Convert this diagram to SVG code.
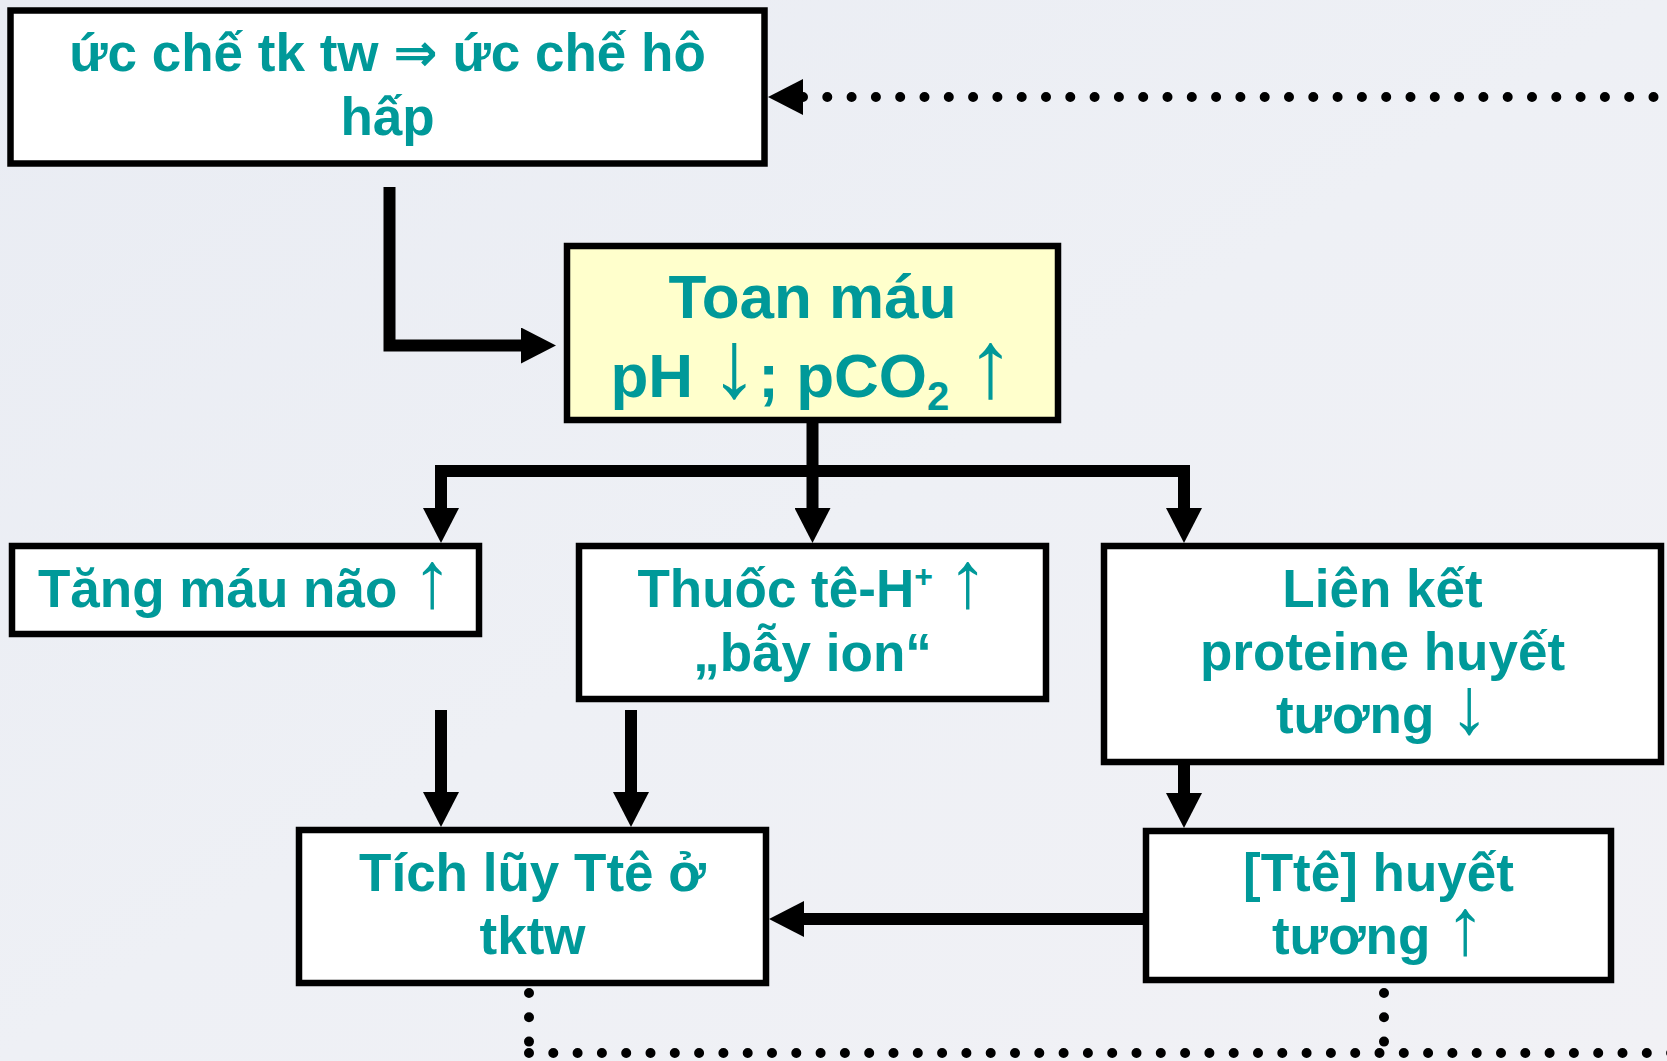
<svg xmlns="http://www.w3.org/2000/svg" width="1667" height="1061" viewBox="0 0 1667 1061">
  <defs>
    <linearGradient id="bg" x1="0" y1="0" x2="1" y2="1">
      <stop offset="0" stop-color="#E9ECF3"/>
      <stop offset="0.5" stop-color="#EEF0F5"/>
      <stop offset="1" stop-color="#F1F1F5"/>
    </linearGradient>
    <marker id="ah" markerUnits="userSpaceOnUse" markerWidth="36" markerHeight="36" viewBox="0 0 36 36" refX="0" refY="18" orient="auto-start-reverse">
      <path d="M0,0 L35,18 L0,36 Z" fill="#000"/>
    </marker>
    <style>
      .box { stroke: #000; stroke-width: 6.5; fill: #FFFFFF; }
      .yel { fill: #FFFFCC; }
      .t { font-family: "Liberation Sans", Arial, "DejaVu Sans", sans-serif; font-weight: bold; fill: #009999; text-anchor: middle; font-size: 53px; }
      .big { font-size: 62px; }
      .ar { font-weight: normal; font-size: 80px; }
      .big .ar { font-size: 96px; }
      .ln { stroke: #000; stroke-width: 12; fill: none; stroke-linejoin: miter; stroke-linecap: butt; }
      .dot { stroke: #000; stroke-width: 10; fill: none; stroke-linecap: round; stroke-dasharray: 0 24.3; }
    </style>
  </defs>
  <rect x="0" y="0" width="1667" height="1061" fill="url(#bg)"/>

  <g id="connectors">
    <path class="ln" d="M389.5 187 V345.5 H521" marker-end="url(#ah)"/>
    <path class="ln" d="M812.5 423 V508" marker-end="url(#ah)"/>
    <path class="ln" d="M435 471 H1190"/>
    <path class="ln" d="M441 471 V508" marker-end="url(#ah)"/>
    <path class="ln" d="M1184 471 V508" marker-end="url(#ah)"/>
    <path class="ln" d="M441 710 V792" marker-end="url(#ah)"/>
    <path class="ln" d="M631 710 V792" marker-end="url(#ah)"/>
    <path class="ln" d="M1184 765 V793" marker-end="url(#ah)"/>
    <path class="ln" d="M1143 919 H804" marker-end="url(#ah)"/>
    <path class="dot" d="M803 97 H1680" marker-start="url(#ah)"/>
    <path class="dot" d="M529 993 V1045"/>
    <path class="dot" d="M1384 993 V1045"/>
    <path class="dot" d="M529 1053 H1680"/>
  </g>

  <g id="node-uc-che">
    <rect class="box" x="10.5" y="10.5" width="754" height="153"/>
    <text class="t" x="387.5" y="71">ức chế tk tw ⇒ ức chế hô</text>
    <text class="t" x="387.5" y="135">hấp</text>
  </g>

  <g id="node-toan-mau">
    <rect class="box yel" x="567" y="246" width="491" height="174"/>
    <text class="t big" x="812.5" y="318">Toan máu</text>
    <text class="t big" x="812.5" y="397">pH <tspan class="ar">↓</tspan>; pCO<tspan font-size="40" dy="13">2</tspan><tspan dy="-13"> </tspan><tspan class="ar">↑</tspan></text>
  </g>

  <g id="node-tang-mau-nao">
    <rect class="box" x="12" y="546" width="467" height="88"/>
    <text class="t" x="245" y="607">Tăng máu não <tspan class="ar">↑</tspan></text>
  </g>

  <g id="node-thuoc-te">
    <rect class="box" x="579" y="546" width="467" height="153"/>
    <text class="t" x="812.5" y="607">Thuốc tê-H<tspan font-size="32" dy="-20">+</tspan><tspan dy="20"> </tspan><tspan class="ar">↑</tspan></text>
    <text class="t" x="812.5" y="671">„bẫy ion“</text>
  </g>

  <g id="node-lien-ket">
    <rect class="box" x="1104" y="546" width="557" height="216"/>
    <text class="t" x="1382.5" y="607">Liên kết</text>
    <text class="t" x="1382.5" y="670">proteine huyết</text>
    <text class="t" x="1382.5" y="733">tương <tspan class="ar">↓</tspan></text>
  </g>

  <g id="node-tich-luy">
    <rect class="box" x="299" y="830" width="467" height="153"/>
    <text class="t" x="532.5" y="891">Tích lũy Ttê ở</text>
    <text class="t" x="532.5" y="954">tktw</text>
  </g>

  <g id="node-tte-huyet-tuong">
    <rect class="box" x="1146" y="831" width="465" height="149"/>
    <text class="t" x="1378.5" y="891">[Ttê] huyết</text>
    <text class="t" x="1378.5" y="954">tương <tspan class="ar">↑</tspan></text>
  </g>
</svg>
